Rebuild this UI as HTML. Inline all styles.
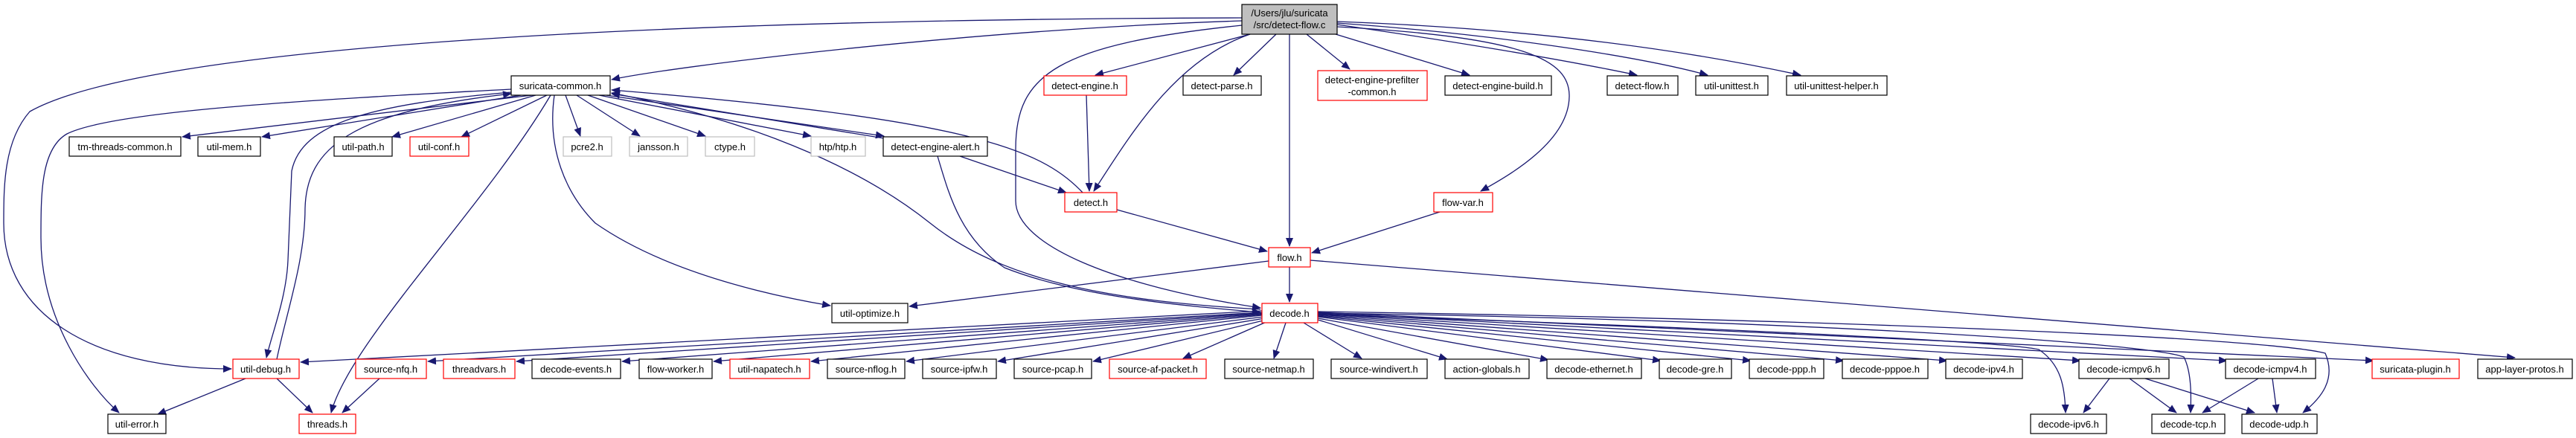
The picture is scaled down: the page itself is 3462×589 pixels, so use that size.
<!DOCTYPE html>
<html><head><meta charset="utf-8"><style>
html,body{margin:0;padding:0;background:#fff;}
svg{display:block;}
text{font-family:"Liberation Sans",Arial,sans-serif;font-size:13px;fill:#000;}
.e{fill:none;stroke:#191970;stroke-width:1.3;}
.b{fill:#fff;stroke:#000;stroke-width:1.2;}
.r{fill:#fff;stroke:#ff0000;stroke-width:1.2;}
.g{fill:#fff;stroke:#bfbfbf;stroke-width:1.2;}
</style></head><body>
<svg width="3462" height="589" viewBox="0 0 3462 589" xmlns="http://www.w3.org/2000/svg">
<defs><marker id="a" markerWidth="12" markerHeight="10" refX="11" refY="5" orient="auto" markerUnits="userSpaceOnUse"><path d="M0,0 L12,5 L0,10 z" fill="#191970"/></marker></defs>
<g class="e" marker-end="url(#a)">
<path d="M1669,28 C1300,40 900,90 822,107"/>
<path d="M1669,24 C900,26 200,60 40,150 C5,190 5,250 5,300 C5,420 120,496 311,496"/>
<path d="M1680,46 L1472,101"/>
<path d="M1680,46 C1580,80 1520,180 1470,257"/>
<path d="M1669,34 C1420,60 1365,100 1365,200 L1365,270 C1365,330 1500,385 1694,414"/>
<path d="M1715,46 L1658,101"/>
<path d="M1733,46 L1733,331"/>
<path d="M1756,46 L1814,93"/>
<path d="M1795,46 L1975,101"/>
<path d="M1797,33 C1950,55 2100,80 2200,101"/>
<path d="M1797,31 C2000,45 2200,75 2295,101"/>
<path d="M1797,29 C2100,40 2300,75 2420,101"/>
<path d="M1797,36 C2050,50 2110,80 2109,130 C2108,190 2030,235 1990,257"/>
<path d="M715,128 L245,184"/>
<path d="M700,128 L352,184"/>
<path d="M720,128 L527,184"/>
<path d="M735,128 L620,184"/>
<path d="M760,128 L780,183"/>
<path d="M775,128 L860,183"/>
<path d="M790,128 L948,183"/>
<path d="M805,128 L1090,183"/>
<path d="M815,128 L1188,183"/>
<path d="M1188,186 L822,126"/>
<path d="M740,128 C650,280 470,460 445,555"/>
<path d="M745,128 C735,200 760,260 800,300 C900,370 1050,400 1116,411"/>
<path d="M687,120 C400,135 150,150 90,180 C55,200 55,260 55,320 C55,430 120,520 160,555"/>
<path d="M687,124 C500,140 405,165 392,230 L387,350 C385,400 365,450 358,481"/>
<path d="M372,483 C385,420 410,350 410,280 C412,200 470,150 687,126"/>
<path d="M1455,259 C1400,200 1300,160 822,121"/>
<path d="M1694,416 C1500,405 1350,380 1250,300 C1150,220 1000,160 822,125"/>
<path d="M1260,210 C1275,260 1290,320 1350,360 C1450,400 1600,412 1694,420"/>
<path d="M1290,210 L1433,259"/>
<path d="M1460,128 L1464,257"/>
<path d="M1501,282 L1703,338"/>
<path d="M1935,285 L1763,340"/>
<path d="M1733,359 L1733,406"/>
<path d="M1705,351 L1222,412"/>
<path d="M1761,350 L3380,481"/>
<path d="M1696,418 L404,487"/>
<path d="M1696,420 L575,486"/>
<path d="M1696,421 L694,486"/>
<path d="M1696,422 L836,486"/>
<path d="M1696,423 L959,486"/>
<path d="M1696,424 L1090,486"/>
<path d="M1698,426 L1218,486"/>
<path d="M1700,428 L1341,486"/>
<path d="M1702,430 L1469,486"/>
<path d="M1704,432 L1590,482"/>
<path d="M1728,434 L1712,482"/>
<path d="M1752,434 L1830,482"/>
<path d="M1771,430 L1945,483"/>
<path d="M1771,428 L2081,484"/>
<path d="M1771,426 L2232,485"/>
<path d="M1771,425 L2353,485"/>
<path d="M1771,424 L2478,485"/>
<path d="M1771,423 L2617,485"/>
<path d="M1771,422 L2796,485"/>
<path d="M1771,421 L2993,485"/>
<path d="M1771,420 L3190,485"/>
<path d="M1771,423 C2300,440 2700,460 2740,470 C2770,490 2775,520 2776,555"/>
<path d="M1771,421 C2400,430 2880,460 2935,480 C2945,500 2945,530 2944,555"/>
<path d="M1771,419 C2500,430 3050,455 3125,475 C3140,510 3120,535 3095,555"/>
<path d="M330,509 L212,557"/>
<path d="M372,509 L420,555"/>
<path d="M510,509 L460,555"/>
<path d="M2835,509 L2800,555"/>
<path d="M2862,509 L2925,555"/>
<path d="M2883,509 L3030,555"/>
<path d="M3035,509 L2960,555"/>
<path d="M3054,509 L3060,555"/>
</g>
<g text-anchor="middle">
<rect x="1669" y="6" width="128" height="40" fill="#bfbfbf" stroke="#000" stroke-width="1.2"/><text x="1733" y="22">/Users/jlu/suricata</text><text x="1733" y="38">/src/detect-flow.c</text>
<rect class="b" x="687" y="102" width="133" height="26"/><text x="753" y="120">suricata-common.h</text>
<rect class="r" x="1403" y="102" width="111" height="26"/><text x="1458" y="120">detect-engine.h</text>
<rect class="b" x="1590" y="102" width="105" height="26"/><text x="1642" y="120">detect-parse.h</text>
<rect class="r" x="1771" y="95" width="147" height="40"/><text x="1844" y="112">detect-engine-prefilter</text><text x="1844" y="128">-common.h</text>
<rect class="b" x="1942" y="102" width="143" height="26"/><text x="2013" y="120">detect-engine-build.h</text>
<rect class="b" x="2160" y="102" width="95" height="26"/><text x="2207" y="120">detect-flow.h</text>
<rect class="b" x="2279" y="102" width="97" height="26"/><text x="2327" y="120">util-unittest.h</text>
<rect class="b" x="2401" y="102" width="135" height="26"/><text x="2468" y="120">util-unittest-helper.h</text>
<rect class="b" x="93" y="184" width="150" height="26"/><text x="168" y="202">tm-threads-common.h</text>
<rect class="b" x="266" y="184" width="84" height="26"/><text x="308" y="202">util-mem.h</text>
<rect class="b" x="449" y="184" width="78" height="26"/><text x="488" y="202">util-path.h</text>
<rect class="r" x="551" y="184" width="79" height="26"/><text x="590" y="202">util-conf.h</text>
<rect class="g" x="757" y="184" width="65" height="26"/><text x="789" y="202">pcre2.h</text>
<rect class="g" x="846" y="184" width="78" height="26"/><text x="885" y="202">jansson.h</text>
<rect class="g" x="948" y="184" width="66" height="26"/><text x="981" y="202">ctype.h</text>
<rect class="g" x="1090" y="184" width="73" height="26"/><text x="1126" y="202">htp/htp.h</text>
<rect class="b" x="1187" y="184" width="140" height="26"/><text x="1257" y="202">detect-engine-alert.h</text>
<rect class="r" x="1431" y="259" width="70" height="26"/><text x="1466" y="277">detect.h</text>
<rect class="r" x="1927" y="259" width="79" height="26"/><text x="1966" y="277">flow-var.h</text>
<rect class="r" x="1705" y="333" width="56" height="26"/><text x="1733" y="351">flow.h</text>
<rect class="b" x="1118" y="408" width="102" height="26"/><text x="1169" y="426">util-optimize.h</text>
<rect class="r" x="1696" y="408" width="75" height="26"/><text x="1733" y="426">decode.h</text>
<rect class="r" x="313" y="483" width="89" height="26"/><text x="357" y="501">util-debug.h</text>
<rect class="r" x="478" y="483" width="95" height="26"/><text x="525" y="501">source-nfq.h</text>
<rect class="r" x="596" y="483" width="96" height="26"/><text x="644" y="501">threadvars.h</text>
<rect class="b" x="715" y="483" width="119" height="26"/><text x="774" y="501">decode-events.h</text>
<rect class="b" x="859" y="483" width="98" height="26"/><text x="908" y="501">flow-worker.h</text>
<rect class="r" x="981" y="483" width="107" height="26"/><text x="1034" y="501">util-napatech.h</text>
<rect class="b" x="1112" y="483" width="104" height="26"/><text x="1164" y="501">source-nflog.h</text>
<rect class="b" x="1240" y="483" width="99" height="26"/><text x="1289" y="501">source-ipfw.h</text>
<rect class="b" x="1363" y="483" width="104" height="26"/><text x="1415" y="501">source-pcap.h</text>
<rect class="r" x="1491" y="483" width="130" height="26"/><text x="1556" y="501">source-af-packet.h</text>
<rect class="b" x="1646" y="483" width="119" height="26"/><text x="1705" y="501">source-netmap.h</text>
<rect class="b" x="1789" y="483" width="129" height="26"/><text x="1853" y="501">source-windivert.h</text>
<rect class="b" x="1942" y="483" width="113" height="26"/><text x="1998" y="501">action-globals.h</text>
<rect class="b" x="2079" y="483" width="127" height="26"/><text x="2142" y="501">decode-ethernet.h</text>
<rect class="b" x="2230" y="483" width="97" height="26"/><text x="2278" y="501">decode-gre.h</text>
<rect class="b" x="2351" y="483" width="100" height="26"/><text x="2401" y="501">decode-ppp.h</text>
<rect class="b" x="2476" y="483" width="115" height="26"/><text x="2533" y="501">decode-pppoe.h</text>
<rect class="b" x="2615" y="483" width="103" height="26"/><text x="2666" y="501">decode-ipv4.h</text>
<rect class="b" x="2794" y="483" width="121" height="26"/><text x="2854" y="501">decode-icmpv6.h</text>
<rect class="b" x="2991" y="483" width="121" height="26"/><text x="3051" y="501">decode-icmpv4.h</text>
<rect class="r" x="3188" y="483" width="117" height="26"/><text x="3246" y="501">suricata-plugin.h</text>
<rect class="b" x="3330" y="483" width="127" height="26"/><text x="3393" y="501">app-layer-protos.h</text>
<rect class="b" x="145" y="557" width="78" height="26"/><text x="184" y="575">util-error.h</text>
<rect class="r" x="402" y="557" width="76" height="26"/><text x="440" y="575">threads.h</text>
<rect class="b" x="2729" y="557" width="102" height="26"/><text x="2780" y="575">decode-ipv6.h</text>
<rect class="b" x="2892" y="557" width="98" height="26"/><text x="2941" y="575">decode-tcp.h</text>
<rect class="b" x="3013" y="557" width="101" height="26"/><text x="3063" y="575">decode-udp.h</text>
</g>
</svg>
</body></html>
